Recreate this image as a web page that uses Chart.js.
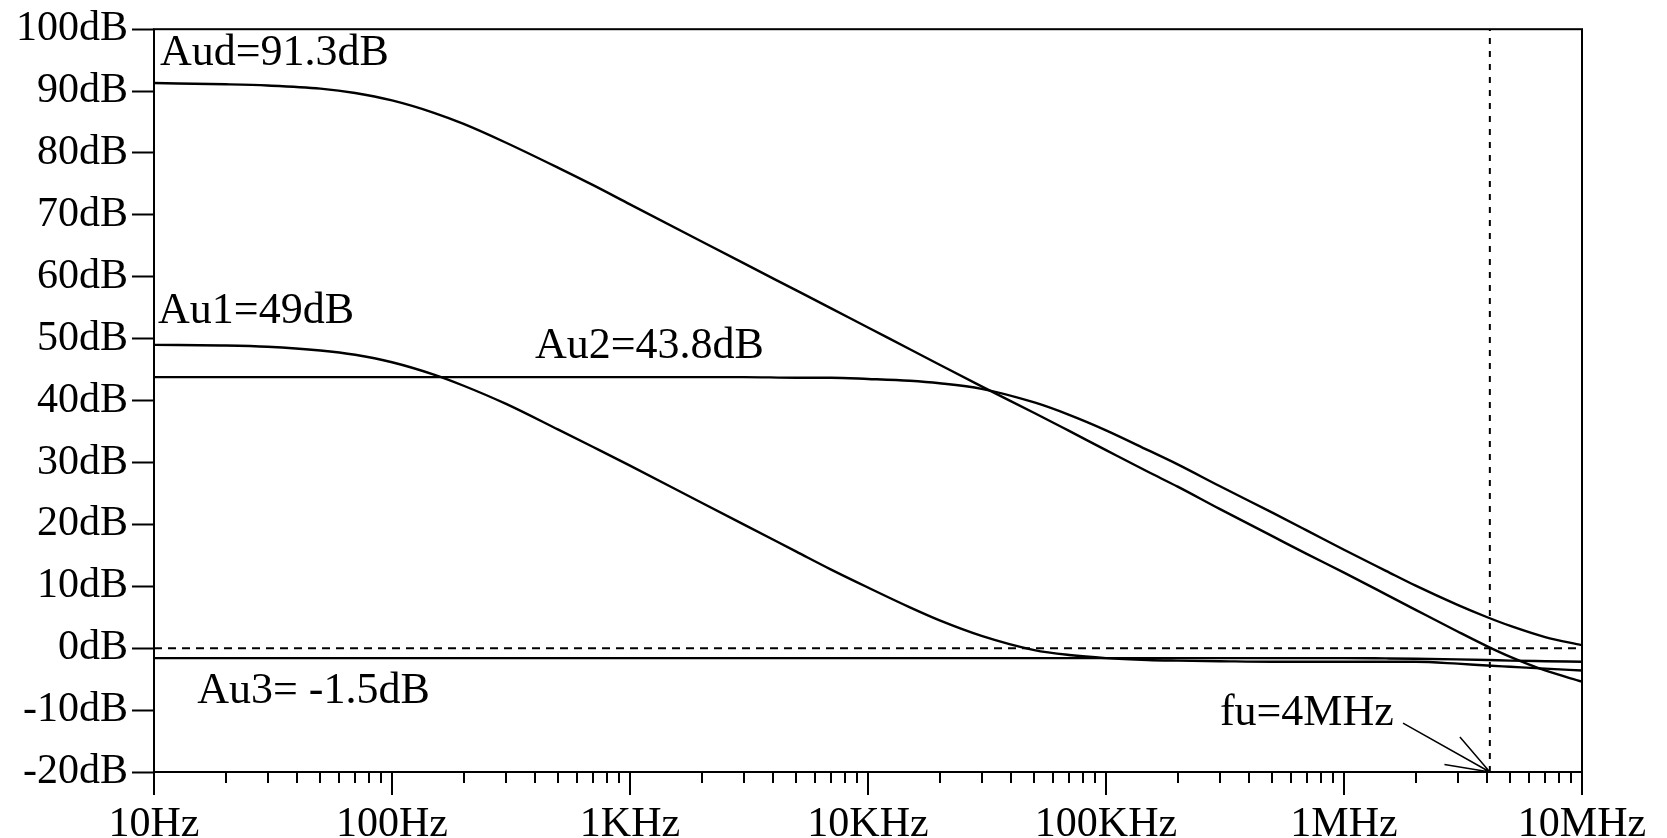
<!DOCTYPE html>
<html><head><meta charset="utf-8">
<script src="https://cdn.jsdelivr.net/npm/chart.js@4.4.1/dist/chart.umd.min.js"></script>
<style>html,body{margin:0;padding:0;background:#fff;overflow:hidden}#wrap{width:1667px;height:838px;position:relative}</style>
</head><body><div id="wrap"><canvas id="c" width="1667" height="838"></canvas></div>
<script>
// Frequencies (Hz)
const freqHz = [10,20,30,50,70,100,150,200,300,500,700,
  1e3,2e3,3e3,5e3,7e3,1e4,1.5e4,2e4,3e4,5e4,7e4,
  1e5,1.5e5,2e5,3e5,5e5,7e5,1e6,1.5e6,2e6,3e6,4e6,5e6,7e6,1e7];
// Gains (dB)
const aud = [91.3,91.1,90.9,90.4,89.7,88.5,86.5,84.7,81.7,77.6,74.8,
  71.7,65.7,62.2,57.8,54.9,51.8,48.3,45.8,42.3,38.0,35.1,
  32.0,28.5,26.1,22.5,18.1,15.2,12.2,8.7,6.2,2.7,0.3,-1.4,-3.6,-5.4];
const au1 = [49.0,48.9,48.7,48.1,47.4,46.2,44.2,42.4,39.5,35.3,32.5,
  29.5,23.5,20.0,15.6,12.7,9.8,6.6,4.5,2.0,-0.3,-1.1,
  -1.6,-1.9,-2.0,-2.1,-2.2,-2.2,-2.2,-2.2,-2.2,-2.5,-2.8,-3.0,-3.3,-3.6];
const au2 = [43.8,43.8,43.8,43.8,43.8,43.8,43.8,43.8,43.8,43.8,43.8,
  43.8,43.8,43.8,43.7,43.7,43.5,43.2,42.8,41.9,39.7,37.7,
  35.2,32.0,29.7,26.2,21.9,19.0,15.9,12.5,10.1,7.0,5.0,3.6,1.8,0.5];
const au3 = [-1.6,-1.6,-1.6,-1.6,-1.6,-1.6,-1.6,-1.6,-1.6,-1.6,-1.6,
  -1.6,-1.6,-1.6,-1.6,-1.6,-1.6,-1.6,-1.6,-1.6,-1.6,-1.6,
  -1.6,-1.6,-1.6,-1.6,-1.6,-1.6,-1.6,-1.65,-1.7,-1.8,-1.9,-2.0,-2.1,-2.2];
// Unity-gain frequency marker and reference level
const fuHz = 4.1e6;
const refDb = 0;
// Tick labels
const xDecades = [10,100,1e3,1e4,1e5,1e6,1e7];
const xTickLabels = ['10Hz','100Hz','1KHz','10KHz','100KHz','1MHz','10MHz'];
const yMin = -20, yMax = 100, yStep = 10;
const yUnit = 'dB';
// Text annotations
const notes = [
  {text:'Aud=91.3dB', f:10.6, db:94.2},
  {text:'Au1=49dB', f:10.4, db:52.6},
  {text:'Au2=43.8dB', f:399, db:46.9},
  {text:'Au3= -1.5dB', f:15.2, db:-8.9},
  {text:'fu=4MHz', f:3.01e5, db:-12.4}
];
const arrowFrom = {f:1.77e6, db:-12.1};

const pts = arr => freqHz.map((f,i)=>({x:f,y:arr[i]}));
const curve = arr => ({data:pts(arr),borderColor:'#000',borderWidth:2.4,pointRadius:0,cubicInterpolationMode:'monotone',fill:false});

const xTickVals = [];
for (let d=0; d<xDecades.length-1; d++) for (let m=1; m<10; m++) xTickVals.push(xDecades[d]*m);
xTickVals.push(xDecades[xDecades.length-1]);

const frame = {
  id:'frame',
  afterDraw(chart){
    const {ctx, chartArea:a, scales:{x,y}} = chart;
    ctx.save();
    ctx.strokeStyle='#000'; ctx.lineWidth=2;
    ctx.strokeRect(a.left, a.top, a.right-a.left, a.bottom-a.top);
    ctx.beginPath();
    x.ticks.forEach(t=>{
      const px = Math.round(x.getPixelForValue(t.value));
      const len = t.major ? 23 : 11;
      ctx.moveTo(px, a.bottom); ctx.lineTo(px, a.bottom+len);
    });
    ctx.stroke();
    ctx.fillStyle='#000';
    ctx.font='44px "Liberation Serif"';
    ctx.textAlign='left'; ctx.textBaseline='alphabetic';
    notes.forEach(n=>ctx.fillText(n.text, x.getPixelForValue(n.f), y.getPixelForValue(n.db)));
    // arrow
    const tx = x.getPixelForValue(fuHz), ty = y.getPixelForValue(yMin);
    const sx = x.getPixelForValue(arrowFrom.f), sy = y.getPixelForValue(arrowFrom.db);
    ctx.lineWidth=1.5;
    ctx.beginPath(); ctx.moveTo(sx,sy); ctx.lineTo(tx,ty);
    const ang = Math.atan2(sy-ty, sx-tx);
    const L = 46, spread = 20*Math.PI/180;
    ctx.moveTo(tx,ty); ctx.lineTo(tx+L*Math.cos(ang+spread), ty+L*Math.sin(ang+spread));
    ctx.moveTo(tx,ty); ctx.lineTo(tx+L*Math.cos(ang-spread), ty+L*Math.sin(ang-spread));
    ctx.stroke();
    ctx.restore();
  }
};

Chart.defaults.font.family = '"Liberation Serif", "Times New Roman", serif';
Chart.defaults.color = '#000';

new Chart(document.getElementById('c'), {
  type:'line',
  data:{datasets:[
    {data:[{x:freqHz[0],y:refDb},{x:freqHz[freqHz.length-1],y:refDb}],borderColor:'#000',borderWidth:2,borderDash:[8,6],pointRadius:0},
    {data:[{x:fuHz,y:yMin},{x:fuHz,y:yMax}],borderColor:'#000',borderWidth:2,borderDash:[6,7],pointRadius:0},
    curve(aud), curve(au1), curve(au2), curve(au3)
  ]},
  options:{
    responsive:false, devicePixelRatio:1, animation:false,
    layout:{padding:{left:0,top:27,right:85,bottom:0}},
    plugins:{legend:{display:false},tooltip:{enabled:false}},
    scales:{
      x:{type:'logarithmic',min:10,max:1e7,
        afterBuildTicks(s){ s.ticks = xTickVals.map(v=>({value:v, major: xDecades.includes(v)})); },
        afterFit(s){ s.height = 66; },
        grid:{display:false}, border:{display:false},
        ticks:{autoSkip:false,maxRotation:0,minRotation:0,padding:4,font:{size:42,lineHeight:1.93},
          callback(v){ const i = xDecades.indexOf(v); return i>=0 ? xTickLabels[i] : ''; }}
      },
      y:{type:'linear',min:yMin,max:yMax,
        afterFit(s){ s.width = 154; },
        grid:{drawOnChartArea:false,drawTicks:true,tickLength:22,tickWidth:2,tickColor:'#000'},
        border:{display:false},
        ticks:{stepSize:yStep,padding:4,font:{size:42},callback(v){ return v + yUnit; }}
      }
    }
  },
  plugins:[frame]
});
</script></body></html>
